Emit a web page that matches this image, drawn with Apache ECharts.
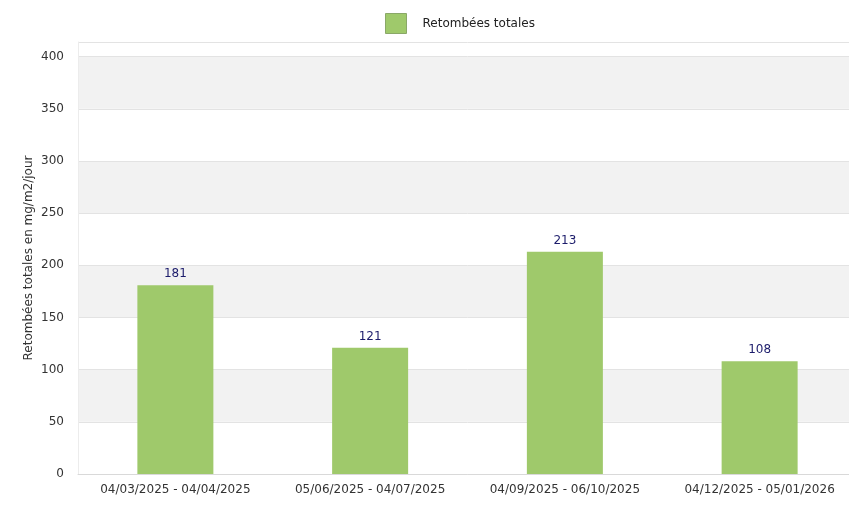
<!DOCTYPE html>
<html>
<head>
<meta charset="utf-8">
<script src="https://cdn.jsdelivr.net/npm/echarts@6/dist/echarts.min.js"></script>
<style>html,body{margin:0;padding:0;background:#fff;overflow:hidden}#c{width:857px;height:505px}</style>
</head>
<body>
<div id="c"></div>
<script>
const categories = ['04/03/2025 - 04/04/2025', '05/06/2025 - 04/07/2025', '04/09/2025 - 06/10/2025', '04/12/2025 - 05/01/2026'];
const seriesName = 'Retombées totales';
const values = [181, 121, 213, 108];
const yAxisName = 'Retombées totales en mg/m2/jour';

const chart = echarts.init(document.getElementById('c'));
const font = 'DejaVu Sans';
chart.setOption({
  animation: false,
  textStyle: { fontFamily: font },
  legend: {
    data: [{ name: seriesName, icon: 'rect', itemStyle: { borderColor: '#8aa868', borderWidth: 1 } }],
    left: 380, top: 8,
    itemWidth: 21, itemHeight: 20, itemGap: 10,
    textStyle: { fontFamily: font, fontSize: 12, color: '#222', padding: [0, 0, 0, 11] },
    selectedMode: false
  },
  grid: { left: 78, right: 0, top: 42, bottom: 31, containLabel: false },
  xAxis: {
    type: 'category',
    data: categories,
    axisLine: { show: true, lineStyle: { color: '#d9d9d9' } },
    axisTick: { show: false },
    axisLabel: { interval: 0, fontFamily: font, fontSize: 12, color: '#333', margin: 10 },
    splitLine: { show: false }
  },
  yAxis: {
    type: 'value',
    min: 0, max: 414, interval: 50,
    name: yAxisName,
    nameLocation: 'middle',
    nameGap: 43,
    nameMoveOverlap: false,
    nameTextStyle: { fontFamily: font, fontSize: 12, color: '#333' },
    axisLine: { show: true, lineStyle: { color: '#ececec' } },
    axisTick: { show: false },
    axisLabel: { fontFamily: font, fontSize: 12, color: '#333', margin: 14, showMaxLabel: false },
    splitLine: { show: true, lineStyle: { color: '#e3e3e3' } },
    splitArea: { show: true, areaStyle: { color: ['#ffffff', '#f2f2f2'] } }
  },
  series: [{
    name: seriesName,
    type: 'bar',
    data: values,
    barWidth: 76,
    itemStyle: { color: '#9fc96b' },
    label: { show: true, position: 'top', distance: 5, fontFamily: font, fontSize: 12, color: '#1c1c6b' }
  }]
});
</script>
</body>
</html>
